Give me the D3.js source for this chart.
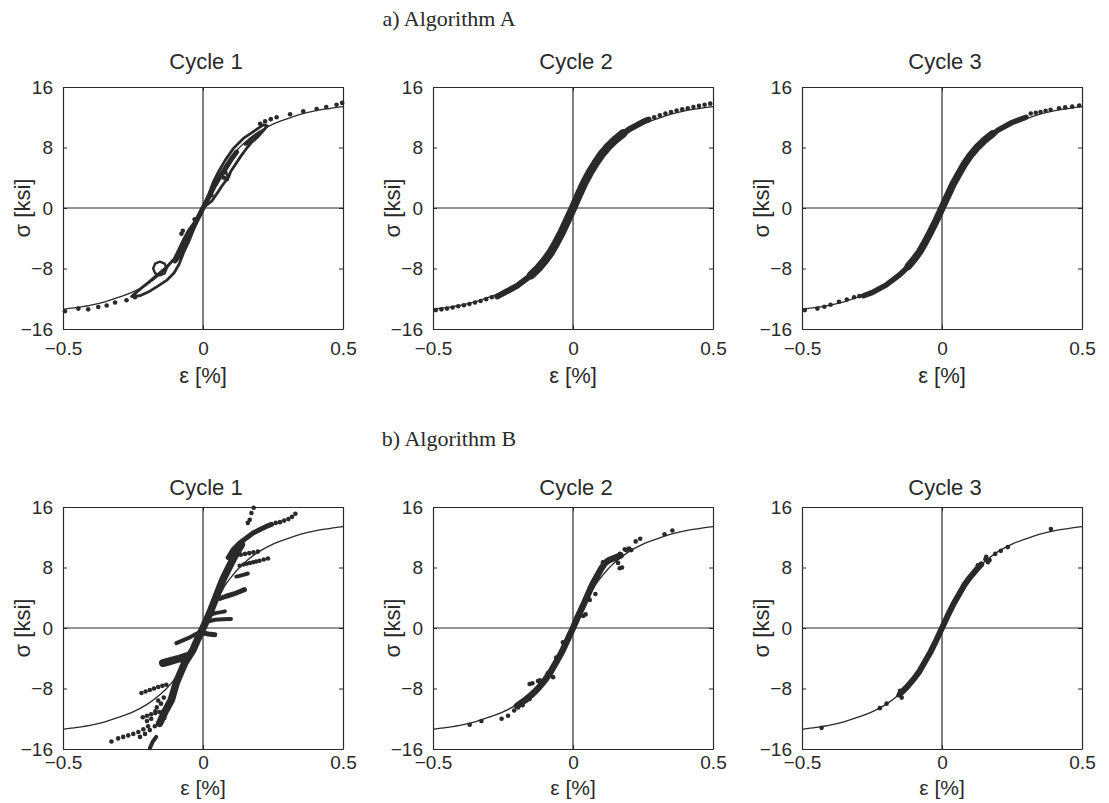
<!DOCTYPE html>
<html><head><meta charset="utf-8">
<script src="https://cdn.jsdelivr.net/npm/d3@7"></script>
<style>body{margin:0;background:#fff} svg{display:block}</style>
</head><body>
<svg id="c" width="1109" height="803"></svg>
<script>
// ---------------- data ----------------
const xTicks = [-0.5, 0, 0.5];
const yTicks = [-16, -8, 0, 8, 16];
const cycleNames = ["Cycle 1", "Cycle 2", "Cycle 3"];
const algoTitles = ["a) Algorithm A", "b) Algorithm B"];
const xLabel = "ε [%]";
const yLabel = "σ [ksi]";

// fitted stress-strain curve (same in every panel)
const curveEps = [-0.5,-0.45,-0.4,-0.35,-0.3,-0.25,-0.2,-0.15,-0.125,-0.1,-0.08,-0.06,-0.04,-0.02,0,0.02,0.04,0.06,0.08,0.1,0.125,0.15,0.2,0.25,0.3,0.35,0.4,0.45,0.5];
const curveSig = [-13.4,-13.15,-12.85,-12.4,-11.8,-11.1,-10.1,-8.7,-7.8,-6.7,-5.7,-4.4,-3.1,-1.6,0,1.6,3.1,4.4,5.7,6.7,7.8,8.7,10.1,11.1,11.8,12.4,12.85,13.15,13.4];

// ---- a) Algorithm A, cycle 1
const a1TailEps = [0.204,0.222,0.242,0.263,0.311,0.358,0.406,0.44,0.477,0.497,-0.493,-0.445,-0.41,-0.374,-0.344,-0.314,-0.273,-0.243];
const a1TailSig = [11.15,11.45,11.75,12.0,12.4,12.8,13.1,13.35,13.66,13.9,-13.66,-13.3,-13.4,-13.1,-12.9,-12.5,-12.2,-11.8];
const a1CoreEps = [-0.1,-0.085,-0.068,-0.05,-0.03,-0.015,0,0.02,0.04,0.06,0.08,0.1,0.12];
const a1CoreSig = [-7.0,-6.3,-5.0,-3.6,-2.2,-1.1,0,1.4,2.9,4.1,5.2,6.4,7.4];
const a1LoopUpEps = [0,0.019,0.037,0.055,0.079,0.108,0.144,0.18,0.215,0.23,0.215,0.198,0.174,0.156,0.138,0.12,0.1,0.09,0.073,0.055,0.031,0];
const a1LoopUpSig = [0,1.68,3.44,4.76,6.3,7.85,9.2,10.1,11.0,10.85,10.2,9.5,8.7,7.9,7.0,6.0,4.9,4.0,3.2,2.2,0.9,0];
const a1LoopInEps = [0.15,0.17,0.19,0.205,0.2,0.185,0.165,0.15];
const a1LoopInSig = [8.4,9.1,9.7,10.0,9.6,9.1,8.5,8.4];
const a1LoopLowEps = [0,-0.017,-0.034,-0.052,-0.068,-0.085,-0.1025,-0.13,-0.165,-0.2,-0.23,-0.255,-0.225,-0.19,-0.16,-0.1275,-0.1036,-0.085,-0.068,-0.049,-0.032,-0.016,0];
const a1LoopLowSig = [0,-0.97,-2.07,-2.95,-4.06,-5.38,-6.7,-7.8,-8.9,-10.0,-10.9,-11.7,-11.6,-11.0,-10.3,-9.5,-8.6,-7.4,-5.8,-4.3,-2.7,-1.3,0];
const a1LoopSmallEps = [-0.130,-0.137,-0.154,-0.171,-0.178,-0.171,-0.154,-0.137,-0.130];
const a1LoopSmallSig = [-8.0,-7.36,-7.1,-7.36,-8.0,-8.64,-8.9,-8.64,-8.0];
const a1BlobEps = [0.085,0.09,0.08,0.075,-0.077,-0.072,-0.03,0.03];
const a1BlobSig = [3.8,4.3,4.7,4.0,-3.4,-3.0,-1.5,1.7];

// ---- a) Algorithm A, cycle 2
const a2BandEps = [-0.27,-0.25,-0.2,-0.15,-0.125,-0.1,-0.08,-0.06,-0.04,-0.02,0,0.02,0.04,0.06,0.08,0.1,0.125,0.15,0.2,0.25,0.27];
const a2BandSig = [-11.7,-11.3,-10.3,-8.9,-8.0,-6.9,-5.9,-4.6,-3.2,-1.6,0,1.7,3.3,4.7,5.9,7.0,8.1,9.0,10.4,11.4,11.7];
const a2CoreEps = [-0.15,-0.125,-0.1,-0.08,-0.06,-0.04,-0.02,0,0.02,0.04,0.06,0.08,0.1,0.125,0.15,0.18];
const a2CoreSig = [-8.9,-8.0,-6.9,-5.9,-4.6,-3.2,-1.6,0,1.7,3.3,4.7,5.9,7.0,8.1,9.0,9.9];
const a2TailEps = [0.29,0.31,0.33,0.35,0.37,0.39,0.41,0.43,0.45,0.47,0.49,-0.49,-0.47,-0.45,-0.43,-0.41,-0.39,-0.37,-0.35,-0.33,-0.31,-0.29];
const a2TailSig = [12.0,12.25,12.5,12.7,12.9,13.05,13.2,13.35,13.5,13.65,13.8,-13.5,-13.4,-13.3,-13.15,-13.0,-12.85,-12.7,-12.5,-12.3,-12.05,-11.8];

// ---- a) Algorithm A, cycle 3
const a3BandEps = [-0.28,-0.25,-0.2,-0.15,-0.125,-0.1,-0.08,-0.06,-0.04,-0.02,0,0.02,0.04,0.06,0.08,0.1,0.125,0.15,0.2,0.25,0.3];
const a3BandSig = [-11.6,-11.2,-10.2,-8.8,-7.9,-6.8,-5.8,-4.5,-3.1,-1.6,0,1.6,3.2,4.5,5.8,6.9,8.0,8.9,10.3,11.3,12.0];
const a3CoreEps = [-0.12,-0.1,-0.08,-0.06,-0.04,-0.02,0,0.02,0.04,0.06,0.08,0.1,0.125,0.15,0.18];
const a3CoreSig = [-7.7,-6.8,-5.8,-4.5,-3.1,-1.6,0,1.6,3.2,4.5,5.8,6.9,8.0,8.9,9.8];
const a3TailEps = [0.317,0.335,0.352,0.37,0.388,0.418,0.44,0.465,0.49,-0.49,-0.445,-0.42,-0.398,-0.368,-0.34,-0.314,-0.295];
const a3TailSig = [12.5,12.6,12.7,12.85,13.0,13.2,13.3,13.4,13.55,-13.5,-13.3,-13.05,-12.8,-12.4,-12.1,-11.8,-11.65];

// ---- b) Algorithm B, cycle 1
const b1BandEps = [-0.155,-0.135,-0.113,-0.095,-0.08,-0.065,-0.036,-0.018,0,0.0245,0.048,0.071,0.095,0.119,0.137];
const b1BandSig = [-12.6,-11.0,-9.5,-7.2,-5.9,-4.6,-2.9,-1.4,0,2.0,4.2,6.4,8.2,9.9,11.0];
const b1UpperEps = [0.09,0.107,0.131,0.155,0.179,0.202,0.226,0.245];
const b1UpperSig = [9.3,10.35,11.24,11.9,12.56,13.0,13.43,13.7];
const b1Seg1Eps = [0.119,0.13,0.14,0.15,0.16];
const b1Seg1Sig = [6.8,6.9,7.0,7.1,7.2];
const b1Seg2Eps = [0.06,0.083,0.11,0.13,0.148];
const b1Seg2Sig = [3.9,4.2,4.5,4.8,5.07];
const b1Seg3Eps = [0.03,0.048,0.065,0.078];
const b1Seg3Sig = [1.8,2.0,2.1,2.2];
const b1Seg4Eps = [0.02,0.043,0.07,0.1];
const b1Seg4Sig = [0.9,1.1,1.15,1.2];
const b1Seg5Eps = [-0.01,0.0,0.02,0.042];
const b1Seg5Sig = [-0.5,-0.66,-0.8,-0.9];
const b1Seg6Eps = [-0.095,-0.07,-0.045,-0.02,-0.01];
const b1Seg6Sig = [-2.0,-1.6,-1.2,-0.7,-0.5];
const b1Seg7Eps = [-0.143,-0.12,-0.1,-0.08,-0.059];
const b1Seg7Sig = [-4.63,-4.4,-4.2,-4.0,-3.75];
const b1Seg8Eps = [-0.19,-0.179,-0.167];
const b1Seg8Sig = [-15.9,-15.0,-14.4];
const b1DotEps = [0.16,0.167,0.173,0.181,
  0.26,0.275,0.29,0.305,0.318,0.33,
  0.12,0.135,0.15,0.165,0.18,0.196,
  0.131,0.145,0.155,0.167,0.179,0.19,0.202,0.217,0.232,
  -0.22,-0.205,-0.19,-0.175,-0.16,-0.145,-0.131,
  -0.215,-0.2,-0.185,-0.17,-0.155,-0.2,-0.185,
  -0.327,-0.303,-0.285,-0.267,-0.249,-0.231,-0.213,-0.196,
  -0.225,-0.207,-0.19,-0.172,-0.155,
  -0.138,-0.15,-0.165,-0.17,-0.14,-0.16,-0.125];
const b1DotSig = [13.9,14.3,15.2,15.9,
  13.9,14.0,14.2,14.4,14.7,15.1,
  9.6,9.7,9.8,9.9,10.0,10.1,
  8.24,8.4,8.5,8.6,8.7,8.8,8.9,9.05,9.2,
  -8.6,-8.4,-8.2,-8.0,-7.8,-7.65,-7.5,
  -11.8,-11.6,-11.4,-11.25,-11.1,-12.3,-12.0,
  -15.0,-14.6,-14.4,-14.2,-14.0,-13.75,-13.4,-13.0,
  -14.4,-14.0,-13.5,-13.0,-12.4,
  -11.9,-10.0,-10.5,-11.0,-9.2,-9.6,-10.2];

// ---- b) Algorithm B, cycle 2
const b2BandEps = [-0.2,-0.17,-0.15,-0.125,-0.1,-0.08,-0.06,-0.04,-0.02,0,0.02,0.04,0.06,0.07,0.085,0.1,0.115,0.13,0.15,0.17];
const b2BandSig = [-10.3,-9.5,-8.9,-8.0,-6.9,-5.8,-4.5,-3.2,-1.6,0,1.7,3.3,5.0,5.8,6.8,7.8,8.6,9.0,9.3,9.6];
const b2DotEps = [0.327,0.355,0.208,0.224,0.24,0.185,0.167,0.155,0.161,0.167,0.175,0.107,0.054,0.06,0.036,0.045,0.08,0.2,0.19,
  -0.036,-0.06,-0.071,-0.125,-0.118,-0.155,-0.145,-0.166,-0.155,-0.196,-0.18,-0.232,-0.255,-0.327,-0.369,-0.21,-0.09];
const b2DotSig = [12.4,12.9,10.3,11.45,11.8,10.4,9.8,9.1,8.6,7.9,8.0,8.7,4.05,3.7,1.6,1.8,4.5,10.5,10.3,
  -1.9,-3.9,-6.5,-7.0,-6.9,-7.4,-7.3,-9.6,-9.4,-10.5,-10.2,-11.6,-12.0,-12.3,-12.8,-10.9,-6.0];

// ---- b) Algorithm B, cycle 3
const b3BandEps = [-0.15,-0.125,-0.1,-0.08,-0.06,-0.04,-0.02,0,0.02,0.04,0.06,0.08,0.1,0.125,0.14];
const b3BandSig = [-8.7,-7.8,-6.7,-5.7,-4.4,-3.1,-1.6,0,1.6,3.1,4.4,5.7,6.7,7.8,8.4];
const b3DotEps = [0.389,0.235,0.21,0.19,0.158,0.164,0.17,0.155,0.128,-0.15,-0.144,-0.155,-0.222,-0.198,-0.43];
const b3DotSig = [13.1,10.7,10.2,9.8,9.4,8.7,9.0,9.1,8.3,-8.3,-9.2,-8.9,-10.6,-10.0,-13.2];

// ---------------- layout ----------------
const zip = (e, s) => e.map((v, i) => [v, s[i]]);
const rowTop = [87, 507], colLeft = [63, 433, 802], W = 280, H = 242;
const mainTitleY = [26, 446], cycleTitleY = [69, 495], tickPad = [13, 7], xLabelY = [383, 795], xLabelSize = [22, 21];
const INK = "#2a2a2a";

const panels = [
  {r:0,c:0, lines:[[a1CoreEps,a1CoreSig,5],[a1LoopUpEps,a1LoopUpSig,2.8],[a1LoopInEps,a1LoopInSig,2.6],[a1LoopLowEps,a1LoopLowSig,2.8],[a1LoopSmallEps,a1LoopSmallSig,2.4]], dots:[[a1TailEps,a1TailSig],[a1BlobEps,a1BlobSig]]},
  {r:0,c:1, lines:[[a2BandEps,a2BandSig,6],[a2CoreEps,a2CoreSig,8.5]], dots:[[a2TailEps,a2TailSig]]},
  {r:0,c:2, lines:[[a3BandEps,a3BandSig,5.5],[a3CoreEps,a3CoreSig,7.5]], dots:[[a3TailEps,a3TailSig]]},
  {r:1,c:0, lines:[[b1BandEps,b1BandSig,7.5],[b1UpperEps,b1UpperSig,5],[b1Seg1Eps,b1Seg1Sig,4],[b1Seg2Eps,b1Seg2Sig,5],[b1Seg3Eps,b1Seg3Sig,4],[b1Seg4Eps,b1Seg4Sig,4],[b1Seg5Eps,b1Seg5Sig,5],[b1Seg6Eps,b1Seg6Sig,4],[b1Seg7Eps,b1Seg7Sig,8],[b1Seg8Eps,b1Seg8Sig,4]], dots:[[b1DotEps,b1DotSig]]},
  {r:1,c:1, lines:[[b2BandEps,b2BandSig,6.5]], dots:[[b2DotEps,b2DotSig]]},
  {r:1,c:2, lines:[[b3BandEps,b3BandSig,6]], dots:[[b3DotEps,b3DotSig]]}
];

const svg = d3.select("#c");
svg.append("rect").attr("width",1109).attr("height",803).attr("fill","#fff");
const fmt = d => d < 0 ? "\u2212" + Math.abs(d) : String(d);

algoTitles.forEach((t, r) => {
  svg.append("text").attr("x", 449).attr("y", mainTitleY[r]).attr("text-anchor","middle")
    .attr("font-family","'Liberation Serif','Times New Roman',serif").attr("font-size",22).attr("fill",INK).text(t);
});

panels.forEach(p => {
  const L = colLeft[p.c], T = rowTop[p.r];
  const x = d3.scaleLinear().domain([-0.5,0.5]).range([L, L+W]);
  const y = d3.scaleLinear().domain([-16,16]).range([T+H, T]);
  const g = svg.append("g");
  const font = "'Liberation Sans',Arial,Helvetica,sans-serif";

  // zero lines
  g.append("line").attr("x1",x(0)).attr("x2",x(0)).attr("y1",T).attr("y2",T+H).attr("stroke",INK).attr("stroke-width",1.2);
  g.append("line").attr("x1",L).attr("x2",L+W).attr("y1",y(0)).attr("y2",y(0)).attr("stroke",INK).attr("stroke-width",1.2);

  const line = d3.line().x(d => x(d[0])).y(d => y(d[1]));
  // measured data drawn as dense marker traces
  p.lines.forEach(([e,s,w]) => {
    g.append("path").datum(zip(e,s)).attr("d", line).attr("fill","none").attr("stroke",INK)
      .attr("stroke-width",w).attr("stroke-linejoin","round").attr("stroke-linecap","round");
  });
  p.dots.forEach(([e,s]) => {
    g.selectAll(null).data(zip(e,s)).join("circle").attr("cx",d=>x(d[0])).attr("cy",d=>y(d[1])).attr("r",2.3).attr("fill",INK);
  });
  // fitted curve
  g.append("path").datum(zip(curveEps,curveSig)).attr("d", d3.line().x(d=>x(d[0])).y(d=>y(d[1])).curve(d3.curveMonotoneX))
    .attr("fill","none").attr("stroke",INK).attr("stroke-width",1.3);

  // axes (inward ticks, box)
  const ax = (sel) => sel.selectAll("path.domain").attr("stroke",INK).attr("stroke-width",1.2);
  const axB = g.append("g").attr("transform",`translate(0,${T+H})`)
    .call(d3.axisBottom(x).tickValues(xTicks).tickSizeInner(-4).tickSizeOuter(0).tickPadding(tickPad[p.r]).tickFormat(fmt));
  const axT = g.append("g").attr("transform",`translate(0,${T})`)
    .call(d3.axisTop(x).tickValues(xTicks).tickSizeInner(-4).tickSizeOuter(0).tickFormat(""));
  const axL = g.append("g").attr("transform",`translate(${L},0)`)
    .call(d3.axisLeft(y).tickValues(yTicks).tickSizeInner(-4).tickSizeOuter(0).tickPadding(10).tickFormat(fmt));
  const axR = g.append("g").attr("transform",`translate(${L+W},0)`)
    .call(d3.axisRight(y).tickValues(yTicks).tickSizeInner(-4).tickSizeOuter(0).tickFormat(""));
  [axB,axT,axL,axR].forEach(a => {
    ax(a);
    a.selectAll(".tick line").attr("stroke",INK);
    a.selectAll("text").attr("font-family",font).attr("font-size",19).attr("fill",INK);
  });

  // titles and labels
  g.append("text").attr("x",L+W/2+3).attr("y",cycleTitleY[p.r]).attr("text-anchor","middle")
    .attr("font-family",font).attr("font-size",22).attr("fill",INK).text(cycleNames[p.c]);
  g.append("text").attr("x",L+W/2).attr("y",xLabelY[p.r]).attr("text-anchor","middle")
    .attr("font-family",font).attr("font-size",xLabelSize[p.r]).attr("fill",INK).text(xLabel);
  g.append("text").attr("transform",`translate(${L-33},${T+H/2}) rotate(-90)`).attr("text-anchor","middle")
    .attr("font-family",font).attr("font-size",22).attr("fill",INK).text(yLabel);
});
</script>
</body></html>
